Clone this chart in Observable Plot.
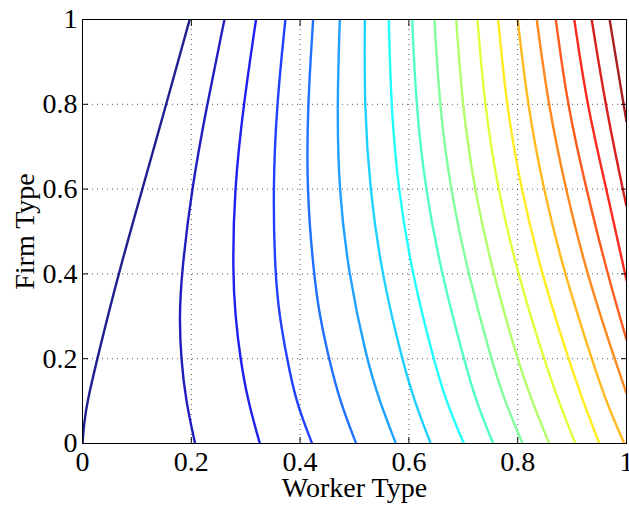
<!DOCTYPE html>
<html><head><meta charset="utf-8">
<script src="https://cdn.jsdelivr.net/npm/d3@7"></script>
<script src="https://cdn.jsdelivr.net/npm/@observablehq/plot@0.6"></script>
<style>body{margin:0;background:#fff} svg text{font-family:"Liberation Serif","Times New Roman",serif}</style>
</head><body><div id="chart"></div>
<script>
// Tick values and labels
const tickValues = [0, 0.2, 0.4, 0.6, 0.8, 1];
const tickLabels = ["0", "0.2", "0.4", "0.6", "0.8", "1"];
const gridValues = [0.2, 0.4, 0.6, 0.8];

// Firm-type rows at which worker-type positions of the inner contours were read
const firmRowsA = [0, 0.05, 0.1, 0.2, 0.4, 0.6, 0.8, 1];
const firmRowsB = [0, 0.1, 0.2, 0.3, 0.4, 0.6, 0.8, 1];
const firmRows = [0, 0.1, 0.2, 0.4, 0.6, 0.8, 1];

// Contours spanning bottom to top (worker type at each firm row)
const worker01 = [0.000, 0.003, 0.009, 0.027, 0.066, 0.110, 0.154, 0.197];
const worker02 = [0.207, 0.190, 0.181, 0.178, 0.182, 0.2005, 0.229, 0.261];
const worker03 = [0.326, 0.304, 0.290, 0.281, 0.276, 0.279, 0.296, 0.319];
const worker04 = [0.422, 0.392, 0.376, 0.362, 0.354, 0.350, 0.357, 0.373];
const worker05 = [0.503, 0.473, 0.453, 0.436, 0.425, 0.412, 0.414, 0.424];
const worker06 = [0.576, 0.546, 0.522, 0.489, 0.471, 0.468, 0.473];
const worker07 = [0.640, 0.610, 0.587, 0.550, 0.528, 0.518, 0.519];
const worker08 = [0.701, 0.668, 0.645, 0.606, 0.580, 0.567, 0.563];
const worker09 = [0.755, 0.723, 0.701, 0.660, 0.630, 0.613, 0.606];
const worker10 = [0.809, 0.776, 0.751, 0.709, 0.676, 0.656, 0.647];
const worker11 = [0.858, 0.826, 0.799, 0.755, 0.720, 0.698, 0.687];
const worker12 = [0.906, 0.875, 0.848, 0.800, 0.763, 0.739, 0.726];
const worker13 = [0.950, 0.920, 0.893, 0.844, 0.806, 0.779, 0.764];
const worker14 = [0.996, 0.962, 0.936, 0.886, 0.847, 0.818, 0.800];

// Contours entering from the right edge
const firm15 = [0.118, 0.2, 0.4, 0.6, 0.8, 1];
const worker15 = [1, 0.978, 0.927, 0.888, 0.856, 0.835];
const firm16 = [0.245, 0.4, 0.6, 0.8, 1];
const worker16 = [1, 0.965, 0.926, 0.891, 0.870];
const firm17 = [0.385, 0.6, 0.8, 1];
const worker17 = [1, 0.963, 0.927, 0.904];
const firm18 = [0.56, 0.6, 0.8, 1];
const worker18 = [1, 0.993, 0.961, 0.936];
const firm19 = [0.76, 0.8, 1];
const worker19 = [1, 0.9945, 0.969];

const contours = [
  [firmRowsA, worker01], [firmRowsB, worker02], [firmRowsB, worker03], [firmRowsB, worker04],
  [firmRowsB, worker05], [firmRows, worker06], [firmRows, worker07], [firmRows, worker08],
  [firmRows, worker09], [firmRows, worker10], [firmRows, worker11], [firmRows, worker12],
  [firmRows, worker13], [firmRows, worker14], [firm15, worker15], [firm16, worker16],
  [firm17, worker17], [firm18, worker18], [firm19, worker19]
];

// MATLAB "jet" colormap
function jet(t) {
  const c = v => Math.max(0, Math.min(1, v));
  const r = c(Math.min(4 * t - 1.5, -4 * t + 4.5));
  const g = c(Math.min(4 * t - 0.5, -4 * t + 3.5));
  const b = c(Math.min(4 * t + 0.5, -4 * t + 2.5));
  return d3.rgb(r * 255, g * 255, b * 255).formatHex();
}

const font = "Liberation Serif";

const lineMarks = contours.map(([firm, worker], i) =>
  Plot.line(firm.map((f, j) => ({x: worker[j], y: f})), {
    x: "x", y: "y", stroke: jet(i * 0.054), strokeWidth: 2.4, strokeOpacity: 0.88,
    curve: "basis", clip: true
  })
);

const fmt = d => tickLabels[tickValues.indexOf(d)];

const chart = Plot.plot({
  width: 629, height: 505,
  marginLeft: 82, marginRight: 3, marginTop: 19, marginBottom: 62,
  style: {fontFamily: font, background: "#fff", color: "#000"},
  x: {domain: [0, 1]},
  y: {domain: [0, 1]},
  marks: [
    Plot.gridX(gridValues, {stroke: "#555", strokeOpacity: 1, strokeDasharray: "1,4"}),
    Plot.gridY(gridValues, {stroke: "#555", strokeOpacity: 1, strokeDasharray: "1,4"}),
    ...lineMarks,
    Plot.frame({stroke: "#000", strokeWidth: 1}),
    // inward ticks on four sides
    Plot.axisX(tickValues, {anchor: "bottom", tickSize: 6, dy: -6, tickFormat: () => "", label: null}),
    Plot.axisX(tickValues, {anchor: "top", tickSize: 6, dy: 6, tickFormat: () => "", label: null}),
    Plot.axisY(tickValues, {anchor: "left", tickSize: 6, dx: 6, tickFormat: () => "", label: null}),
    Plot.axisY(tickValues, {anchor: "right", tickSize: 6, dx: -6, tickFormat: () => "", label: null}),
    // tick labels
    Plot.axisX(tickValues, {anchor: "bottom", tickSize: 0, tickPadding: 8, tickFormat: fmt, fontSize: 28, fontFamily: font, label: null}),
    Plot.axisY(tickValues, {anchor: "left", tickSize: 0, tickPadding: 5, tickFormat: fmt, fontSize: 28, fontFamily: font, label: null}),
    Plot.text(["Worker Type"], {text: d => d, frameAnchor: "bottom", dy: 53, fontSize: 28, fontFamily: font, fill: "#000"}),
    Plot.text(["Firm Type"], {text: d => d, frameAnchor: "left", textAnchor: "middle", lineAnchor: "middle", dx: -57, rotate: -90, fontSize: 28, fontFamily: font, fill: "#000"})
  ]
});
document.getElementById("chart").appendChild(chart);
</script>
</body></html>
